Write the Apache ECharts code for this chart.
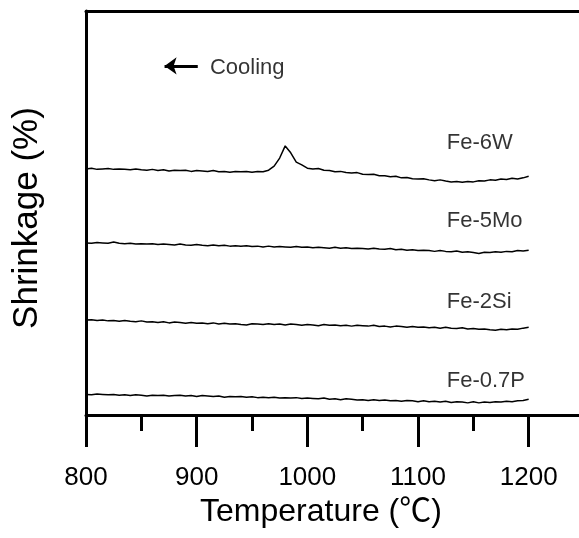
<!DOCTYPE html>
<html>
<head>
<meta charset="utf-8">
<script src="https://cdn.jsdelivr.net/npm/echarts@6/dist/echarts.min.js"></script>
<style>html,body{margin:0;padding:0;background:#fff}#c{width:579px;height:538px}</style>
</head>
<body>
<div id="c"></div>
<script>
// Temperature (°C)
var temps = [
  800, 805, 810, 815, 820, 825, 830, 835, 840, 845,
  850, 855, 860, 865, 870, 875, 880, 885, 890, 895,
  900, 905, 910, 915, 920, 925, 930, 935, 940, 945,
  950, 955, 960, 965, 970, 975, 980, 985, 990, 995,
  1000, 1005, 1010, 1015, 1020, 1025, 1030, 1035, 1040, 1045,
  1050, 1055, 1060, 1065, 1070, 1075, 1080, 1085, 1090, 1095,
  1100, 1105, 1110, 1115, 1120, 1125, 1130, 1135, 1140, 1145,
  1150, 1155, 1160, 1165, 1170, 1175, 1180, 1185, 1190, 1195,
  1200
];
// Shrinkage (arbitrary, offset curves)
var fe6W = [
  60.9, 61.1, 60.8, 60.9, 61.0, 60.8, 60.9, 60.8, 60.7, 60.9,
  60.7, 60.6, 60.8, 60.5, 60.7, 60.4, 60.6, 60.5, 60.6, 60.3,
  60.5, 60.4, 60.3, 60.5, 60.2, 60.3, 60.1, 60.3, 60.2, 60.3,
  60.1, 60.3, 60.2, 60.6, 61.6, 63.6, 66.6, 64.9, 62.6, 61.9,
  61.1, 60.9, 61.0, 60.6, 60.5, 60.2, 60.3, 60.0, 59.9, 60.0,
  59.6, 59.5, 59.6, 59.2, 59.2, 59.0, 59.1, 58.7, 58.8, 58.5,
  58.4, 58.5, 58.2, 58.0, 58.2, 57.9, 57.7, 57.8, 57.6, 57.8,
  57.7, 58.0, 57.9, 58.2, 58.1, 58.4, 58.3, 58.6, 58.4, 58.7,
  59.1
];
var fe5Mo = [
  42.6, 42.5, 42.7, 42.6, 42.5, 42.8, 42.5, 42.4, 42.5, 42.3,
  42.4, 42.3, 42.4, 42.2, 42.3, 42.2, 42.1, 42.3, 42.1, 42.0,
  42.2, 42.0, 41.9, 42.1, 41.9, 42.0, 41.8, 41.9, 41.8, 41.9,
  41.7, 41.8, 41.6, 41.8, 41.6, 41.7, 41.6, 41.5, 41.7, 41.5,
  41.6, 41.4, 41.5, 41.4, 41.3, 41.5, 41.3, 41.4, 41.2, 41.3,
  41.2, 41.1, 41.3, 41.1, 41.0, 41.2, 40.9, 41.0, 40.8, 40.9,
  40.7, 40.8, 40.7, 40.5, 40.7, 40.5, 40.4, 40.6, 40.3, 40.4,
  40.2, 40.0, 40.3, 40.2, 40.4, 40.3, 40.5, 40.4, 40.7, 40.6,
  40.8
];
var fe2Si = [
  23.5, 23.6, 23.4, 23.5, 23.3, 23.4, 23.2, 23.4, 23.2, 23.1,
  23.3, 23.0, 23.1, 22.9, 23.1, 22.8, 23.0, 22.9, 22.7, 22.9,
  22.7, 22.8, 22.6, 22.8, 22.5, 22.7, 22.5, 22.6, 22.4, 22.3,
  22.6, 22.5, 22.4, 22.6, 22.4, 22.5, 22.3, 22.5, 22.4, 22.2,
  22.4, 22.3, 22.1, 22.4, 22.2, 22.3, 22.1, 22.2, 22.0, 22.2,
  22.1, 22.0, 22.2, 21.9, 22.0, 21.8, 22.0, 21.9, 21.7, 21.9,
  21.7, 21.8, 21.6, 21.7, 21.5, 21.7, 21.5, 21.4, 21.6, 21.3,
  21.4, 21.2, 21.3, 21.1, 21.0, 21.2, 21.1, 21.3, 21.2, 21.5,
  21.7
];
var fe07P = [
  5.1, 5.0, 5.2, 5.1, 5.0, 5.1, 4.9, 5.0, 4.8, 5.0,
  4.9, 4.7, 4.9, 4.8, 4.9, 4.7, 4.8, 4.9, 4.7, 4.8,
  4.6, 4.8, 4.7, 4.6, 4.7, 4.4, 4.6, 4.5, 4.6, 4.4,
  4.5, 4.3, 4.4, 4.3, 4.4, 4.2, 4.3, 4.2, 4.3, 4.1,
  4.2, 4.1, 4.0, 4.2, 3.9, 4.0, 3.8, 4.0, 3.9, 3.7,
  3.8, 3.6, 3.8, 3.6, 3.7, 3.5, 3.6, 3.4, 3.6, 3.5,
  3.3, 3.5, 3.3, 3.4, 3.2, 3.4, 3.1, 3.3, 3.2, 3.0,
  3.3, 3.0, 3.2, 3.1, 3.3, 3.2, 3.4, 3.3, 3.5, 3.6,
  3.9
];
var seriesNames = ['Fe-6W', 'Fe-5Mo', 'Fe-2Si', 'Fe-0.7P'];
// label anchor (temperature, shrinkage) for each curve name
var labelT = [1126, 1126, 1126, 1126];
var labelV = [67.3, 48.0, 28.0, 8.4];
// cooling annotation
var coolingText = 'Cooling';
var coolingArrowFromT = 901, coolingArrowToT = 871, coolingArrowV = 86.4;
var coolingTextT = 912, coolingTextV = 85.9;
var xTicks = [800, 900, 1000, 1100, 1200];

var FONT = "'Liberation Sans', Arial, 'Noto Sans CJK SC', sans-serif";
function pairs(vals) { return temps.map(function (t, i) { return [t, vals[i]]; }); }
var allVals = [fe6W, fe5Mo, fe2Si, fe07P];

var series = allVals.map(function (v, i) {
  return {
    name: seriesNames[i], type: 'line', data: pairs(v), showSymbol: false,
    lineStyle: { color: '#000', width: 1.5 }, silent: true, animation: false
  };
});
series.push({
  type: 'scatter', symbolSize: 0, silent: true, animation: false,
  data: labelT.map(function (t, i) { return [t, labelV[i], seriesNames[i]]; })
    .concat([[coolingTextT, coolingTextV, coolingText]]),
  label: {
    show: true, position: 'right', distance: 0, color: '#000',
    fontFamily: FONT, fontSize: 22,
    formatter: function (p) { return p.value[2]; }
  },
  markLine: {
    silent: true, animation: false, symbol: ['none', 'arrow'], symbolSize: [13, 12],
    label: { show: false },
    lineStyle: { color: '#000', width: 3, type: 'solid' },
    data: [[{ coord: [coolingArrowFromT, coolingArrowV] }, { coord: [coolingArrowToT, coolingArrowV] }]]
  }
});

var chart = echarts.init(document.getElementById('c'), null, { renderer: 'canvas' });
chart.setOption({
  backgroundColor: '#fff',
  animation: false,
  grid: { left: 86, top: 11, width: 498, height: 404, show: false, containLabel: false, outerBoundsMode: 'none' },
  xAxis: [{
    type: 'value', min: 800, max: 1250, interval: 100,
    name: 'Temperature (℃)', nameLocation: 'middle', nameGap: 81,
    nameTextStyle: { fontFamily: FONT, fontSize: 32, color: '#000', padding: [0, 28, 0, 0] },
    axisLine: { show: true, lineStyle: { color: '#000', width: 3 } },
    axisTick: { show: true, inside: false, length: 32, lineStyle: { color: '#000', width: 3 } },
    minorTick: { show: true, splitNumber: 2, length: 16, lineStyle: { color: '#000', width: 3 } },
    splitLine: { show: false },
    axisLabel: {
      margin: 50, fontFamily: FONT, fontSize: 26, color: '#000', showMaxLabel: false,
      formatter: function (v) { return xTicks.indexOf(v) >= 0 ? String(v) : ''; }
    }
  }, {
    type: 'value', min: 800, max: 1250, interval: 100, position: 'top',
    axisLine: { show: true, lineStyle: { color: '#000', width: 3 } },
    axisTick: { show: false }, axisLabel: { show: false }, splitLine: { show: false }
  }],
  yAxis: {
    type: 'value', min: 0, max: 100,
    name: 'Shrinkage (%)', nameLocation: 'middle', nameGap: 41,
    nameTextStyle: { fontFamily: FONT, fontSize: 35, color: '#000', padding: [0, 10, 0, 0] },
    axisLine: { show: true, lineStyle: { color: '#000', width: 3 } },
    axisTick: { show: false }, axisLabel: { show: false }, splitLine: { show: false }
  },
  series: series
});
</script>
</body>
</html>
